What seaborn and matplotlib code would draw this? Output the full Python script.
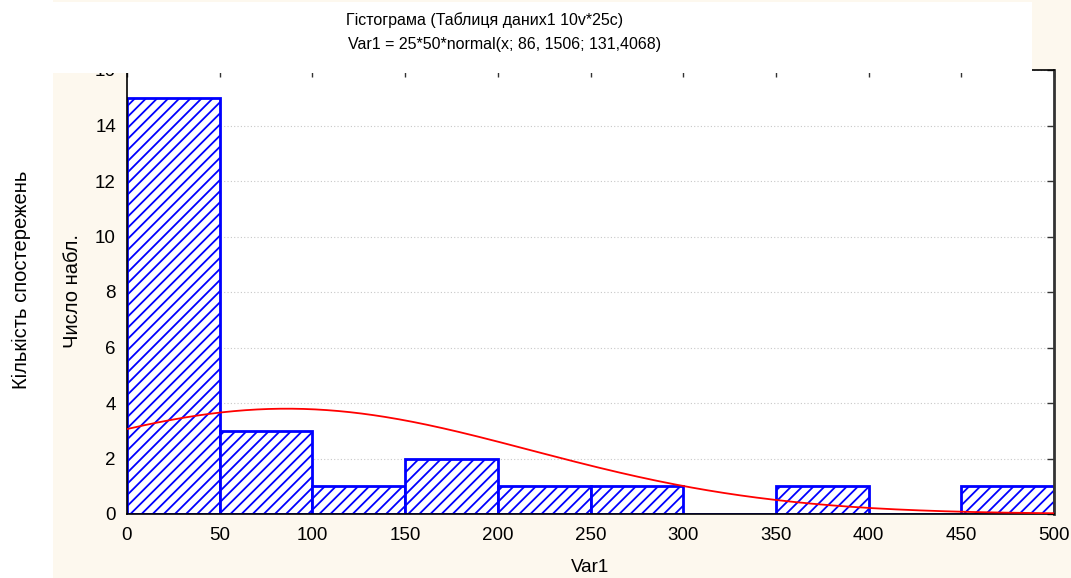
import numpy as np
import pandas as pd
import matplotlib.pyplot as plt
import matplotlib.patches as mpatches
from matplotlib import font_manager
import seaborn as sns

# Дані гістограми (Var1, 25 спостережень)
bin_edges = [0, 50, 100, 150, 200, 250, 300, 350, 400, 450, 500]
bin_centers = [25, 75, 125, 175, 225, 275, 325, 375, 425, 475]
counts = [15, 3, 1, 2, 1, 1, 0, 1, 0, 1]

# Параметри нормальної кривої з заголовка
n_obs = 25
bin_width = 50
mu = 86.1506
sigma = 131.4068

x_ticks = [0, 50, 100, 150, 200, 250, 300, 350, 400, 450, 500]
y_ticks = [0, 2, 4, 6, 8, 10, 12, 14, 16]

sns.set_style("white")
plt.rcParams['font.family'] = ['Liberation Sans', 'DejaVu Sans']
plt.rcParams['hatch.linewidth'] = 1.3
plt.rcParams['text.color'] = 'black'

beige = '#FDF8EE'
fig = plt.figure(figsize=(10.71, 5.78), dpi=100, facecolor=beige)
ax = fig.add_axes([127 / 1071, 64 / 578, 927 / 1071, 444 / 578])
ax.set_facecolor('white')

df = pd.DataFrame({"Var1": bin_centers, "n": counts})
sns.histplot(data=df, x="Var1", weights="n", bins=bin_edges, ax=ax,
             fill=True, color='white', edgecolor='#0000FF', linewidth=2,
             hatch='///', alpha=1.0, zorder=2)
for p in ax.patches:
    p.set_facecolor('white')
    p.set_edgecolor('#0000FF')
    p.set_hatch('///')

# нормальна крива
xs = np.linspace(0, 500, 400)
ys = n_obs * bin_width * np.exp(-0.5 * ((xs - mu) / sigma) ** 2) / (sigma * np.sqrt(2 * np.pi))
sns.lineplot(x=xs, y=ys, ax=ax, color='#FF0000', linewidth=1.3, zorder=3)

ax.set_xlim(0, 500)
ax.set_ylim(0, 16)
ax.set_xticks(x_ticks)
ax.set_yticks(y_ticks)
ax.tick_params(axis='both', labelsize=13.5, direction='in', length=5, width=1,
               top=True, right=True, color='#333333', labelcolor='black')
ax.tick_params(axis='x', pad=9)
ax.tick_params(axis='y', pad=8)
ax.yaxis.grid(True, linestyle=(0, (1, 2)), color='#C8C8C8', linewidth=0.8)
ax.set_axisbelow(True)
for side in ['left', 'bottom', 'top']:
    ax.spines[side].set_color('black')
    ax.spines[side].set_linewidth(1.2)
ax.spines['right'].set_color('#333333')
ax.spines['right'].set_linewidth(2)

ax.set_xlabel("Var1", fontsize=13.5, labelpad=11, color='black')
ax.set_ylabel("")

# біла смуга зліва та біле поле заголовка (перекриває верхню рамку)
fig.patches.append(mpatches.Rectangle((0, 0), 53 / 1071, 1, transform=fig.transFigure,
                                      facecolor='white', edgecolor='none', zorder=-1))
fig.patches.append(mpatches.Rectangle((53 / 1071, 1 - 73 / 578), 979 / 1071, 71 / 578,
                                      transform=fig.transFigure, facecolor='white',
                                      edgecolor='none', zorder=10))

names = {f.name for f in font_manager.fontManager.ttflist}
if 'Liberation Sans Narrow' in names:
    title_font = ['Liberation Sans Narrow', 'DejaVu Sans']
    title_size = 13
else:
    title_font = ['Liberation Sans', 'DejaVu Sans']
    title_size = 11.5
fig.text(485 / 1071, 1 - 20 / 578, "Гістограма (Таблиця даних1 10v*25c)",
         ha='center', va='center', fontsize=title_size, family=title_font, zorder=11)
fig.text(505 / 1071, 1 - 44 / 578, "Var1 = 25*50*normal(x; 86, 1506; 131,4068)",
         ha='center', va='center', fontsize=title_size, family=title_font, zorder=11)

fig.text(72 / 1071, 1 - 291 / 578, "Число набл.", rotation=90,
         ha='center', va='center', fontsize=14.5)
fig.text(21 / 1071, 1 - 280 / 578, "Кількість спостережень", rotation=90,
         ha='center', va='center', fontsize=14.5)

plt.savefig("out.png", dpi=100, facecolor=beige)
